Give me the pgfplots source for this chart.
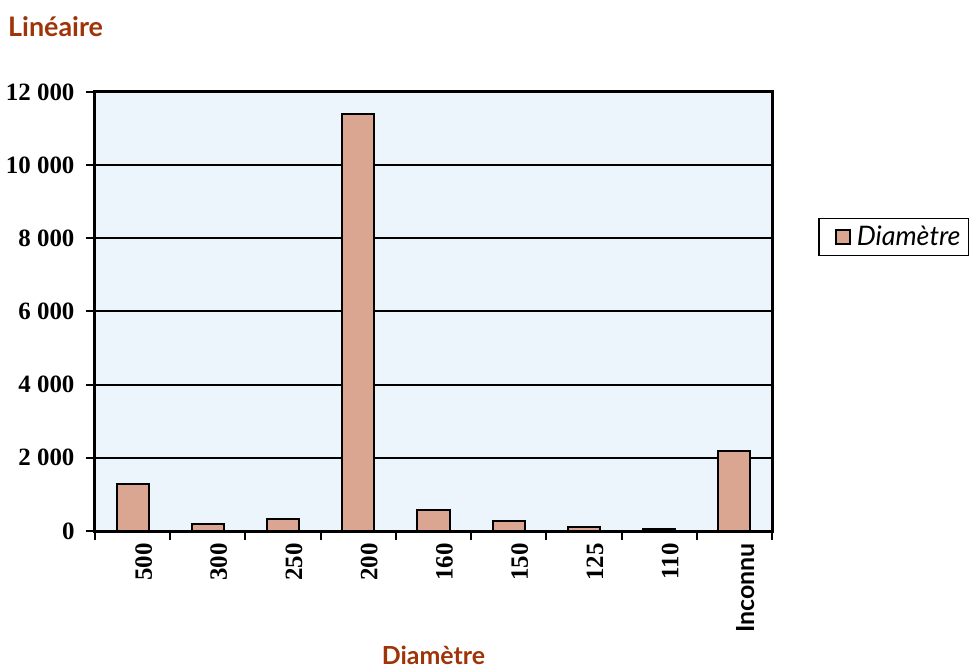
\documentclass[border=0pt]{standalone}
\usepackage{pgfplots}
\pgfplotsset{compat=1.18}
\usepackage{fontspec}
\setmainfont{Liberation Serif}
\newfontfamily\optima{Lato}
\definecolor{barfill}{RGB}{218,166,146}
\definecolor{plotbg}{RGB}{236,244,252}
\definecolor{titlebrown}{RGB}{158,52,8}

\begin{document}
\begin{tikzpicture}
\useasboundingbox (-95bp,-137bp) rectangle (883bp,531bp);
% chart title, top left
\node[anchor=west, inner sep=0pt, text=titlebrown,
      font=\optima\bfseries\fontsize{27}{31}\selectfont] at (-87bp,504bp) {Linéaire};
\begin{axis}[
    at={(0,0)}, anchor=south west,
    scale only axis,
    width=677bp, height=439bp,
    ybar, bar width=32bp,
    xmin=-0.5, xmax=8.5,
    ymin=0, ymax=12000,
    xtick={0,...,8},
    xticklabels={500,300,250,200,160,150,125,110,{\optima\bfseries Inconnu}},
    major x tick style={draw=none},
    minor xtick={-0.5,0.5,...,8.5},
    ytick={0,2000,...,12000},
    yticklabels={0,2 000,4 000,6 000,8 000,10 000,12 000},
    scaled y ticks=false,
    tick pos=left,
    tick align=outside,
    major tick length=9bp, minor tick length=9bp,
    tick style={black, line width=2bp},
    ymajorgrids,
    grid style={black, line width=2bp},
    axis line style={line width=3bp},
    axis background/.style={fill=plotbg},
    yticklabel style={font=\bfseries\fontsize{25}{29}\selectfont, xshift=-8bp},
    xticklabel style={rotate=90, anchor=east, font=\bfseries\fontsize{25}{29}\selectfont, yshift=-11bp},
    xlabel={Diamètre},
    xlabel style={at={(axis description cs:0.5,0)}, anchor=south, yshift=-134bp,
                  inner sep=0pt, text=titlebrown,
                  font=\optima\bfseries\fontsize{25}{29}\selectfont},
    legend style={at={(1.068,0.67)}, anchor=west, draw=black, line width=1.5bp,
                  font=\optima\itshape\fontsize{27}{31}\selectfont,
                  inner xsep=6bp, inner ysep=6bp},
    legend image code/.code={
        \path[draw=none, fill=none] (0bp,0bp) -- (30bp,0bp);
        \draw[fill=barfill, draw=black, line width=1.5bp] (11bp,-7bp) rectangle (25bp,7bp);},
]
\addplot[fill=barfill, draw=black, line width=2bp] coordinates {
    (0,1280) (1,190) (2,330) (3,11400) (4,570) (5,260) (6,120) (7,60) (8,2180)
};
\addlegendentry{Diamètre}
\end{axis}
\end{tikzpicture}
\end{document}
